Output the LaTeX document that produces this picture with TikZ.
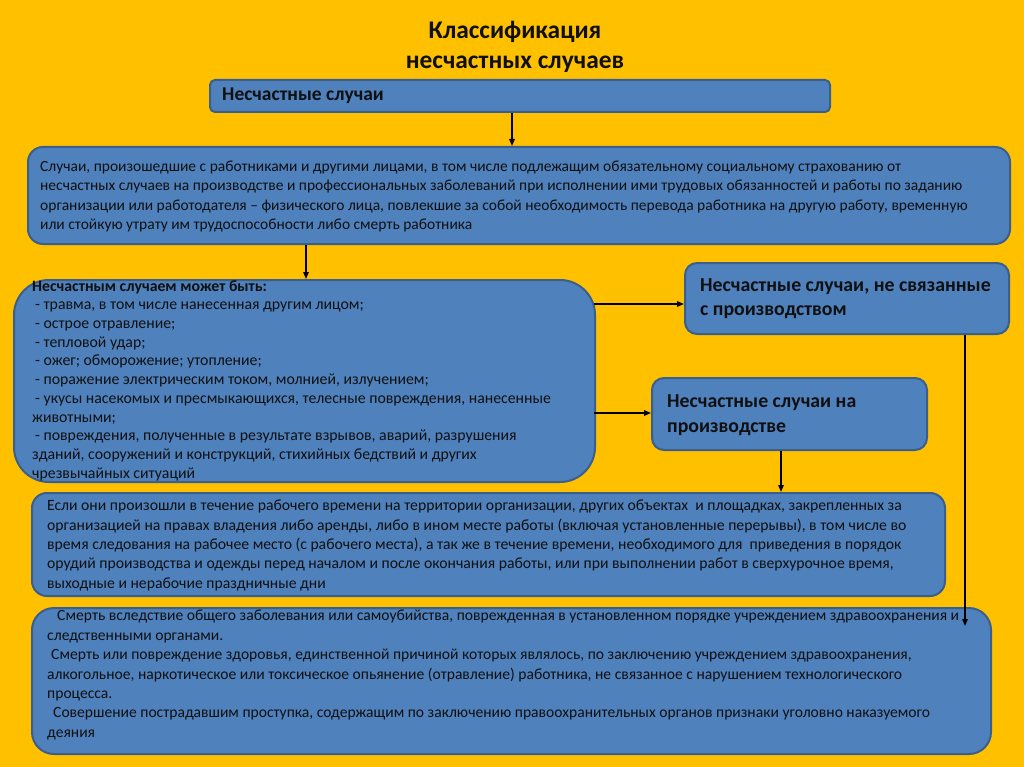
\documentclass[tikz,border=0pt]{standalone}
\usepackage{fontspec}
\setmainfont{Carlito}
\usetikzlibrary{arrows.meta}
\definecolor{bgc}{HTML}{FFC000}
\definecolor{boxfill}{HTML}{4F81BD}
\definecolor{boxdraw}{HTML}{3A5F8C}
\definecolor{txt}{HTML}{101010}
\begin{document}
\begin{tikzpicture}[x=1pt,y=-1pt,
  box/.style={draw=boxdraw, fill=boxfill, line width=2pt, inner sep=0pt, anchor=north west},
  txtn/.style={anchor=west, align=left, inner sep=0pt, text=txt},
  arr/.style={-{Triangle[length=7pt,width=5.5pt]}, line width=1.4pt, black}]
\fill[bgc] (0,0) rectangle (1024,767);
\useasboundingbox (0,0) rectangle (1024,767);

\node[align=center, inner sep=0pt, text=txt, font=\bfseries\fontsize{25.4}{30}\selectfont] (title) at (515,46.5) {Классификация\\несчастных случаев};

\node[box, rounded corners=5pt, minimum width=620pt, minimum height=32pt] (b1) at (209,79) {};
\node[txtn, font=\bfseries\fontsize{19.5}{22}\selectfont] (t1) at (222,96) {Несчастные случаи};

\node[box, rounded corners=15pt, minimum width=982pt, minimum height=97pt] (b2) at (27,146) {};
\node[txtn, font=\fontsize{15.5}{19.6}\selectfont] (t2) at (40,196.5) {Случаи, произошедшие с работниками и другими лицами, в том числе подлежащим обязательному социальному страхованию от\\
несчастных случаев на производстве и профессиональных заболеваний при исполнении ими трудовых обязанностей и работы по заданию\\
организации или работодателя – физического лица, повлекшие за собой необходимость перевода работника на другую работу, временную\\
или стойкую утрату им трудоспособности либо смерть работника};

\node[box, rounded corners=35pt, minimum width=581pt, minimum height=202pt] (b3) at (13,279) {};
\node[txtn, font=\fontsize{15.8}{18.7}\selectfont] (t3) at (32,380.5) {\textbf{Несчастным случаем может быть:}\\
\hspace*{3pt}- травма, в том числе нанесенная другим лицом;\\
\hspace*{3pt}- острое отравление;\\
\hspace*{3pt}- тепловой удар;\\
\hspace*{3pt}- ожег; обморожение; утопление;\\
\hspace*{3pt}- поражение электрическим током, молнией, излучением;\\
\hspace*{3pt}- укусы насекомых и пресмыкающихся, телесные повреждения, нанесенные\\
животными;\\
\hspace*{3pt}- повреждения, полученные в результате взрывов, аварий, разрушения\\
зданий, сооружений и конструкций, стихийных бедствий и других\\
чрезвычайных ситуаций};

\node[box, rounded corners=12pt, minimum width=324pt, minimum height=71pt] (b4) at (684,262) {};
\node[txtn, font=\bfseries\fontsize{19.8}{24.5}\selectfont] (t4) at (700,298.5) {Несчастные случаи, не связанные\\с производством};

\node[box, rounded corners=12pt, minimum width=275pt, minimum height=72pt] (b5) at (651,377) {};
\node[txtn, font=\bfseries\fontsize{19.8}{24.5}\selectfont] (t5) at (667,415) {Несчастные случаи на\\производстве};

\node[box, rounded corners=15pt, minimum width=913pt, minimum height=103pt] (b6) at (31,492) {};
\node[txtn, font=\fontsize{15.7}{19.4}\selectfont] (t6) at (47,545.5) {Если они произошли в течение рабочего времени на территории организации, других объектах~ и площадках, закрепленных за\\
организацией на правах владения либо аренды, либо в ином месте работы (включая установленные перерывы), в том числе во\\
время следования на рабочее место (с рабочего места), а так же в течение времени, необходимого для~ приведения в порядок\\
орудий производства и одежды перед началом и после окончания работы, или при выполнении работ в сверхурочное время,\\
выходные и нерабочие праздничные дни};

\node[box, rounded corners=22pt, minimum width=959pt, minimum height=146pt] (b7) at (31,607) {};
\node[txtn, font=\fontsize{15.6}{19.4}\selectfont] (t7) at (47,675) {\hspace*{10pt}Смерть вследствие общего заболевания или самоубийства, поврежденная в установленном порядке учреждением здравоохранения и\\
следственными органами.\\
\hspace*{4pt}Смерть или повреждение здоровья, единственной причиной которых являлось, по заключению учреждением здравоохранения,\\
алкогольное, наркотическое или токсическое опьянение (отравление) работника, не связанное с нарушением технологического\\
процесса.\\
\hspace*{6pt}Совершение пострадавшим проступка, содержащим по заключению правоохранительных органов признаки уголовно наказуемого\\
деяния};

\draw[arr] (b1.south -| 512,0) -- (b2.north -| 512,0);
\draw[arr] (b2.south -| 306,0) -- (b3.north -| 306,0);
\draw[arr] (594,304) -- (b4.west |- 0,304);
\draw[arr] (594,413) -- (b5.west |- 0,413);
\draw[arr] (b5.south -| 781,0) -- (b6.north -| 781,0);
\coordinate (e7) at (965,626);
\draw[arr] (b4.south -| 965,0) -- (e7);
\end{tikzpicture}
\end{document}
